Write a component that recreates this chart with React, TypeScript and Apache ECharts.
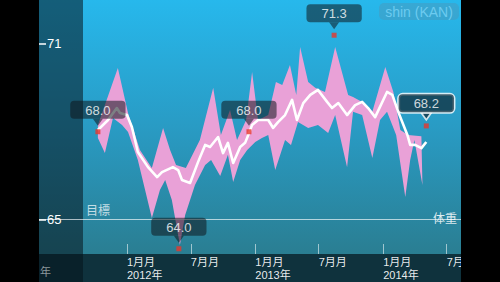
import React, { useEffect, useRef } from "react";
import * as echarts from "echarts";

// ---- data ----
const avgDates = [
  "2011-10-10","2011-11-08","2011-12-03","2011-12-12","2012-01-01","2012-01-15","2012-02-01","2012-03-01",
  "2012-03-27","2012-04-10","2012-05-11","2012-05-26","2012-06-06","2012-06-29","2012-07-22","2012-08-11",
  "2012-08-25","2012-09-17","2012-10-01","2012-10-15","2012-10-30","2012-11-19","2012-12-03","2012-12-12",
  "2012-12-23","2013-01-09","2013-02-07","2013-02-21","2013-03-07","2013-03-27","2013-04-16","2013-04-30",
  "2013-05-18","2013-06-07","2013-06-29","2013-07-25","2013-08-08","2013-08-26","2013-09-20","2013-10-13",
  "2013-11-02","2013-11-19","2013-12-09","2014-01-12","2014-01-27","2014-02-13","2014-03-11","2014-03-19",
  "2014-04-02","2014-04-20","2014-05-04",
];
const avgValues = [
  68.06,68.40,68.81,68.64,68.57,68.16,67.31,66.79,
  66.45,66.62,66.79,66.69,66.35,66.25,66.97,67.55,
  67.48,67.82,67.27,67.62,66.93,67.48,67.62,67.89,
  68.23,68.40,68.40,68.13,68.33,68.57,69.09,68.40,
  68.98,69.26,69.43,69.02,68.81,68.98,68.57,68.91,
  69.02,68.81,68.50,69.36,69.26,68.68,67.89,67.55,
  67.55,67.44,67.65,
];

const maxDates = [
  "2011-10-10","2011-12-06","2012-01-04","2012-02-07","2012-03-12","2012-04-13","2012-05-03","2012-05-20",
  "2012-06-17","2012-07-27","2012-09-03","2012-09-25","2012-10-21","2012-11-10","2012-12-06","2012-12-23",
  "2013-01-09","2013-02-07","2013-03-01","2013-03-19","2013-04-10","2013-04-28","2013-05-09","2013-06-01",
  "2013-06-21","2013-07-19","2013-08-17","2013-09-23","2013-10-07","2013-11-02","2013-12-01","2014-01-07",
  "2014-01-30","2014-02-19","2014-03-13","2014-04-20",
];
const maxValues = [
  68.23,70.18,68.64,67.38,66.76,68.13,67.38,66.86,
  66.76,67.72,69.50,67.89,68.74,67.72,68.40,70.04,
  68.40,68.57,69.70,69.60,70.28,69.26,70.90,69.70,
  69.50,69.36,70.90,69.26,69.19,69.02,68.68,70.21,
  69.36,68.06,67.89,67.85,
];

const minDates = [
  "2011-10-10","2011-10-30","2011-11-22","2011-12-18","2012-01-04","2012-02-01","2012-03-12","2012-04-04",
  "2012-04-19","2012-05-08","2012-05-31","2012-06-15","2012-07-13","2012-08-11","2012-08-28","2012-09-23",
  "2012-10-15","2012-10-30","2012-11-19","2012-12-09","2013-01-01","2013-01-20","2013-02-07","2013-02-27",
  "2013-03-27","2013-04-13","2013-05-03","2013-06-01","2013-06-29","2013-07-28","2013-08-17","2013-09-20",
  "2013-10-07","2013-11-02","2013-12-01","2013-12-23","2014-01-12","2014-02-07","2014-03-05","2014-03-19",
  "2014-03-31","2014-04-23",
];
const minValues = [
  67.79,67.27,68.47,68.23,67.99,67.03,65.05,66.01,
  66.35,65.67,64.13,65.15,66.18,66.86,67.03,66.49,
  67.21,66.28,67.03,67.38,67.65,67.79,67.89,66.69,
  67.72,67.55,68.33,68.13,68.23,67.96,68.57,66.79,
  68.68,68.57,67.10,68.40,68.68,67.89,65.77,67.03,
  67.72,66.18,
];

const calloutDates = ["2011-10-10","2012-05-28","2012-12-14","2013-08-14","2014-05-04"];
const calloutValues = [68.0, 64.0, 68.0, 71.3, 68.2];

const xTickDates = ["2012-01-01","2012-07-01","2013-01-01","2013-07-01","2014-01-01","2014-07-01"];
const xTickLabels = ["1月月\n2012年","7月月","1月月\n2013年","7月月","1月月\n2014年","7月月"];
const xRange = ["2011-04-25", "2014-08-11"];
const yTickValues = [65, 71];
const goalValue = 65;

const FONT = "'Liberation Sans', Arial, 'Noto Sans CJK JP', sans-serif";

// dates -> day number (days since 2012-01-01)
const BASE = Date.UTC(2012, 0, 1);
const t = (s: string) => {
  const [y, m, d] = s.split("-").map(Number);
  return Math.round((Date.UTC(y, m - 1, d) - BASE) / 86400000);
};

export default function App() {
  const ref = useRef<HTMLDivElement>(null);
  useEffect(() => {
    if (!ref.current) return;
    const chart = echarts.init(ref.current, null, { renderer: "svg" });
    const tickDays = xTickDates.map(t);
    const boxFill = "rgba(14,22,28,0.68)";
    const option: any = {
      animation: false,
      grid: { left: 39, right: 39, top: 0, bottom: 28, containLabel: false },
      xAxis: {
        type: "value",
        min: t(xRange[0]),
        max: t(xRange[1]),
        z: 10,
        axisLine: { show: false, onZero: false },
        splitLine: { show: false },
        axisTick: {
          show: true, inside: true, length: 10, customValues: tickDays,
          lineStyle: { color: "rgba(255,255,255,0.55)", width: 1 },
        },
        axisLabel: {
          show: true, customValues: tickDays, align: "left", margin: 1,
          color: "rgba(255,255,255,0.92)", fontSize: 11, lineHeight: 13, fontFamily: FONT,
          showMinLabel: true, showMaxLabel: true,
          formatter: (v: number) => {
            const i = tickDays.indexOf(v);
            return i >= 0 ? xTickLabels[i] : "";
          },
        },
      },
      yAxis: {
        type: "value",
        min: 63.8205,
        max: 72.504,
        z: 10,
        axisLine: { show: false, onZero: false },
        splitLine: { show: false },
        axisTick: {
          show: true, inside: true, length: 7, customValues: yTickValues,
          lineStyle: { color: "#fff", width: 1.5 },
        },
        axisLabel: {
          show: true, inside: true, margin: 8, customValues: yTickValues,
          color: "#fff", fontSize: 13, fontFamily: FONT,
          formatter: (v: number) => String(v),
        },
      },
      graphic: {
        elements: [
          {
            type: "rect", z: -10, silent: true,
            shape: { x: 39, y: 0, width: 422, height: 254 },
            style: {
              fill: new echarts.graphic.LinearGradient(0, 0, 0, 1, [
                { offset: 0, color: "#27b8ec" },
                { offset: 0.5, color: "#299bc4" },
                { offset: 1, color: "#2a7e92" },
              ]),
            },
          },
          {
            type: "rect", z: -10, silent: true,
            shape: { x: 39, y: 254, width: 422, height: 28 },
            style: { fill: "#0f323d" },
          },
          {
            type: "rect", z: 1, silent: true,
            shape: { x: 39, y: 0, width: 44, height: 282 },
            style: { fill: "rgba(5,20,28,0.55)" },
          },
          {
            type: "rect", z: 50, silent: true,
            shape: { x: 379, y: 3, width: 80, height: 17, r: 5 },
            style: { fill: "rgba(90,140,170,0.35)" },
          },
          {
            type: "text", z: 51, silent: true, x: 419, y: 11.5,
            style: { text: "shin (KAN)", fill: "#6ccbf0", fontSize: 14, fontFamily: FONT, align: "center", verticalAlign: "middle" },
          },
          {
            type: "text", z: 51, silent: true, x: 86, y: 211,
            style: { text: "目標", fill: "rgba(255,255,255,0.72)", fontSize: 12, fontFamily: FONT, align: "left", verticalAlign: "middle" },
          },
          {
            type: "text", z: 51, silent: true, x: 433, y: 219,
            style: { text: "体重", fill: "rgba(255,255,255,0.85)", fontSize: 12, fontFamily: FONT, align: "left", verticalAlign: "middle" },
          },
          {
            type: "text", z: 51, silent: true, x: 40, y: 272,
            style: { text: "年", fill: "rgba(255,255,255,0.55)", fontSize: 11, fontFamily: FONT, align: "left", verticalAlign: "middle" },
          },
          { type: "rect", z: 200, silent: true, shape: { x: 0, y: 0, width: 39, height: 282 }, style: { fill: "#000" } },
          { type: "rect", z: 200, silent: true, shape: { x: 461, y: 0, width: 39, height: 282 }, style: { fill: "#000" } },
        ],
      },
      series: [
        {
          type: "custom",
          silent: true,
          z: 2,
          clip: false,
          data: [[t(maxDates[0]), maxValues[0]]],
          renderItem: (_params: any, api: any) => {
            const up = maxDates.map((d, i) => api.coord([t(d), maxValues[i]]));
            const low = minDates.map((d, i) => api.coord([t(d), minValues[i]])).reverse();
            return {
              type: "polygon",
              shape: { points: up.concat(low) },
              style: { fill: "#e9a1d7" },
            };
          },
        },
        {
          type: "line",
          z: 3,
          silent: true,
          showSymbol: false,
          symbol: "none",
          data: avgDates.map((d, i) => [t(d), avgValues[i]]),
          lineStyle: { color: "#ffffff", width: 2.6, join: "round" },
          markLine: {
            silent: true,
            symbol: "none",
            label: { show: false },
            lineStyle: { color: "rgba(255,255,255,0.65)", width: 1, type: "solid" },
            data: [{ yAxis: goalValue }],
          },
        },
        {
          type: "scatter",
          z: 5,
          silent: true,
          symbol: "rect",
          symbolSize: 5,
          itemStyle: { color: "#e8372c" },
          data: calloutDates.map((d, i) => [t(d), calloutValues[i]]),
        },
        {
          type: "scatter",
          z: 6,
          silent: true,
          symbol: "path://M0,0L5,7L10,0Z",
          symbolSize: [10, 7],
          symbolOffset: [0, -9.5],
          itemStyle: { color: boxFill },
          label: {
            show: true,
            position: "top",
            distance: 0,
            color: "#fff",
            fontSize: 13,
            fontFamily: FONT,
            backgroundColor: boxFill,
            borderRadius: 4,
            padding: [3, 15, 2, 15],
            formatter: (p: any) => p.value[1].toFixed(1),
          },
          data: calloutDates.map((d, i) => {
            const last = i === calloutDates.length - 1;
            return last
              ? {
                  value: [t(d), calloutValues[i]],
                  itemStyle: { color: "rgba(18,45,58,0.92)", borderColor: "#fff", borderWidth: 1.5 },
                  label: { backgroundColor: "rgba(18,45,58,0.92)", borderColor: "#fff", borderWidth: 1.5 },
                }
              : { value: [t(d), calloutValues[i]] };
          }),
        },
      ],
    };
    chart.setOption(option);
    return () => chart.dispose();
  }, []);
  return (
    <div
      ref={ref}
      style={{ position: "absolute", left: 0, top: 0, width: 500, height: 282, background: "#000" }}
    />
  );
}
